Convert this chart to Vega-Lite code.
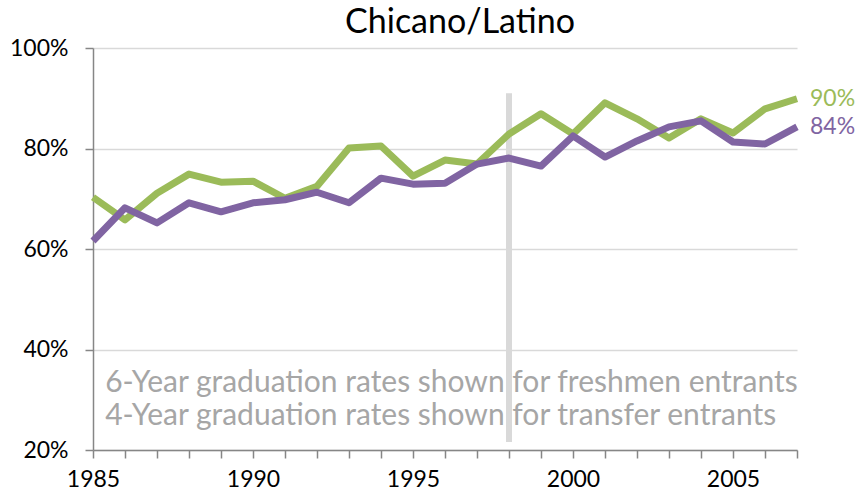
{
  "$schema": "https://vega.github.io/schema/vega-lite/v6.json",
  "width": 704,
  "height": 402,
  "autosize": "none",
  "padding": {"left": 93, "top": 48, "right": 62, "bottom": 46},
  "background": "white",
  "config": {
    "view": {"stroke": null},
    "font": "Lato",
    "axis": {"labelFont": "Lato", "titleFont": "Lato"},
    "axisX": {"labelOverlap": false, "labelSeparation": 0}
  },
  "title": {
    "text": "Chicano/Latino",
    "font": "Lato",
    "fontSize": 34,
    "fontWeight": "normal",
    "color": "#000000",
    "anchor": "middle",
    "dx": 15,
    "offset": -3
  },
  "datasets": {
    "rates": [
      {"year": 1985, "series": "Freshmen (6-year)", "value": 70.3},
      {"year": 1986, "series": "Freshmen (6-year)", "value": 65.8},
      {"year": 1987, "series": "Freshmen (6-year)", "value": 71.1},
      {"year": 1988, "series": "Freshmen (6-year)", "value": 74.9},
      {"year": 1989, "series": "Freshmen (6-year)", "value": 73.3},
      {"year": 1990, "series": "Freshmen (6-year)", "value": 73.5},
      {"year": 1991, "series": "Freshmen (6-year)", "value": 70.1},
      {"year": 1992, "series": "Freshmen (6-year)", "value": 72.5},
      {"year": 1993, "series": "Freshmen (6-year)", "value": 80.1},
      {"year": 1994, "series": "Freshmen (6-year)", "value": 80.5},
      {"year": 1995, "series": "Freshmen (6-year)", "value": 74.5},
      {"year": 1996, "series": "Freshmen (6-year)", "value": 77.7},
      {"year": 1997, "series": "Freshmen (6-year)", "value": 76.9},
      {"year": 1998, "series": "Freshmen (6-year)", "value": 82.9},
      {"year": 1999, "series": "Freshmen (6-year)", "value": 86.9},
      {"year": 2000, "series": "Freshmen (6-year)", "value": 82.9},
      {"year": 2001, "series": "Freshmen (6-year)", "value": 89.1},
      {"year": 2002, "series": "Freshmen (6-year)", "value": 85.9},
      {"year": 2003, "series": "Freshmen (6-year)", "value": 82.1},
      {"year": 2004, "series": "Freshmen (6-year)", "value": 85.9},
      {"year": 2005, "series": "Freshmen (6-year)", "value": 83.1},
      {"year": 2006, "series": "Freshmen (6-year)", "value": 87.9},
      {"year": 2007, "series": "Freshmen (6-year)", "value": 89.9},
      {"year": 1985, "series": "Transfer (4-year)", "value": 61.6},
      {"year": 1986, "series": "Transfer (4-year)", "value": 68.2},
      {"year": 1987, "series": "Transfer (4-year)", "value": 65.2},
      {"year": 1988, "series": "Transfer (4-year)", "value": 69.2},
      {"year": 1989, "series": "Transfer (4-year)", "value": 67.4},
      {"year": 1990, "series": "Transfer (4-year)", "value": 69.2},
      {"year": 1991, "series": "Transfer (4-year)", "value": 69.8},
      {"year": 1992, "series": "Transfer (4-year)", "value": 71.3},
      {"year": 1993, "series": "Transfer (4-year)", "value": 69.2},
      {"year": 1994, "series": "Transfer (4-year)", "value": 74.1},
      {"year": 1995, "series": "Transfer (4-year)", "value": 72.9},
      {"year": 1996, "series": "Transfer (4-year)", "value": 73.1},
      {"year": 1997, "series": "Transfer (4-year)", "value": 76.9},
      {"year": 1998, "series": "Transfer (4-year)", "value": 78.1},
      {"year": 1999, "series": "Transfer (4-year)", "value": 76.5},
      {"year": 2000, "series": "Transfer (4-year)", "value": 82.5},
      {"year": 2001, "series": "Transfer (4-year)", "value": 78.3},
      {"year": 2002, "series": "Transfer (4-year)", "value": 81.5},
      {"year": 2003, "series": "Transfer (4-year)", "value": 84.3},
      {"year": 2004, "series": "Transfer (4-year)", "value": 85.5},
      {"year": 2005, "series": "Transfer (4-year)", "value": 81.3},
      {"year": 2006, "series": "Transfer (4-year)", "value": 80.9},
      {"year": 2007, "series": "Transfer (4-year)", "value": 84.3}
    ],
    "divider": [
      {"year": 1998, "top": 91.0, "bottom": 21.6}
    ]
  },
  "layer": [
    {
      "data": {"name": "divider"},
      "mark": {"type": "rule", "color": "#d9d9d9", "strokeWidth": 6},
      "encoding": {
        "x": {
          "field": "year",
          "type": "quantitative",
          "scale": {"domain": [1985, 2007], "nice": false, "zero": false},
          "axis": {
            "title": null,
            "values": [1985, 1986, 1987, 1988, 1989, 1990, 1991, 1992, 1993, 1994, 1995, 1996, 1997, 1998, 1999, 2000, 2001, 2002, 2003, 2004, 2005, 2006, 2007],
            "tickCount": 30,
            "labelExpr": "datum.value % 5 == 0 ? format(datum.value, 'd') : ''",
            "grid": false,
            "domainColor": "#868686",
            "domainWidth": 1.5,
            "tickColor": "#868686",
            "tickWidth": 1.5,
            "tickSize": 8,
            "labelFontSize": 23,
            "labelColor": "#000000",
            "labelPadding": 10,
            "labelFlush": false,
            "labelOverlap": false,
            "labelSeparation": 0
          }
        },
        "y": {
          "field": "top",
          "type": "quantitative",
          "scale": {"domain": [20, 100], "nice": false, "zero": false},
          "axis": {
            "title": null,
            "values": [20, 40, 60, 80, 100],
            "labelExpr": "datum.value + '%'",
            "grid": true,
            "gridColor": "#d9d9d9",
            "gridWidth": 1.5,
            "domainColor": "#868686",
            "domainWidth": 1.5,
            "tickColor": "#868686",
            "tickWidth": 1.5,
            "tickSize": 8,
            "labelFontSize": 23,
            "labelColor": "#000000",
            "labelPadding": 17
          }
        },
        "y2": {"field": "bottom"}
      }
    },
    {
      "data": {"name": "rates"},
      "mark": {"type": "line", "strokeWidth": 7, "strokeJoin": "round"},
      "encoding": {
        "x": {"field": "year", "type": "quantitative"},
        "y": {"field": "value", "type": "quantitative"},
        "color": {
          "field": "series",
          "type": "nominal",
          "scale": {"domain": ["Freshmen (6-year)", "Transfer (4-year)"], "range": ["#9bbb59", "#8064a2"]},
          "legend": null
        }
      }
    },
    {
      "data": {"name": "rates"},
      "transform": [
        {"filter": "datum.year === 2007"},
        {"calculate": "format(datum.value, '.0f') + '%'", "as": "label"}
      ],
      "mark": {"type": "text", "align": "left", "baseline": "middle", "dx": 13, "fontSize": 23, "font": "Lato"},
      "encoding": {
        "x": {"field": "year", "type": "quantitative"},
        "y": {"field": "value", "type": "quantitative"},
        "text": {"field": "label", "type": "nominal"},
        "color": {"field": "series", "type": "nominal", "legend": null}
      }
    },
    {
      "data": {"values": [{}]},
      "mark": {"type": "text", "align": "left", "baseline": "middle", "fontSize": 30, "font": "Lato", "color": "#a6a6a6", "lineHeight": 33},
      "encoding": {
        "x": {"datum": 1985.38, "type": "quantitative"},
        "y": {"datum": 33.3, "type": "quantitative"},
        "text": {"value": ["6-Year graduation rates shown for freshmen entrants", "4-Year graduation rates shown for transfer entrants"]}
      }
    }
  ]
}
